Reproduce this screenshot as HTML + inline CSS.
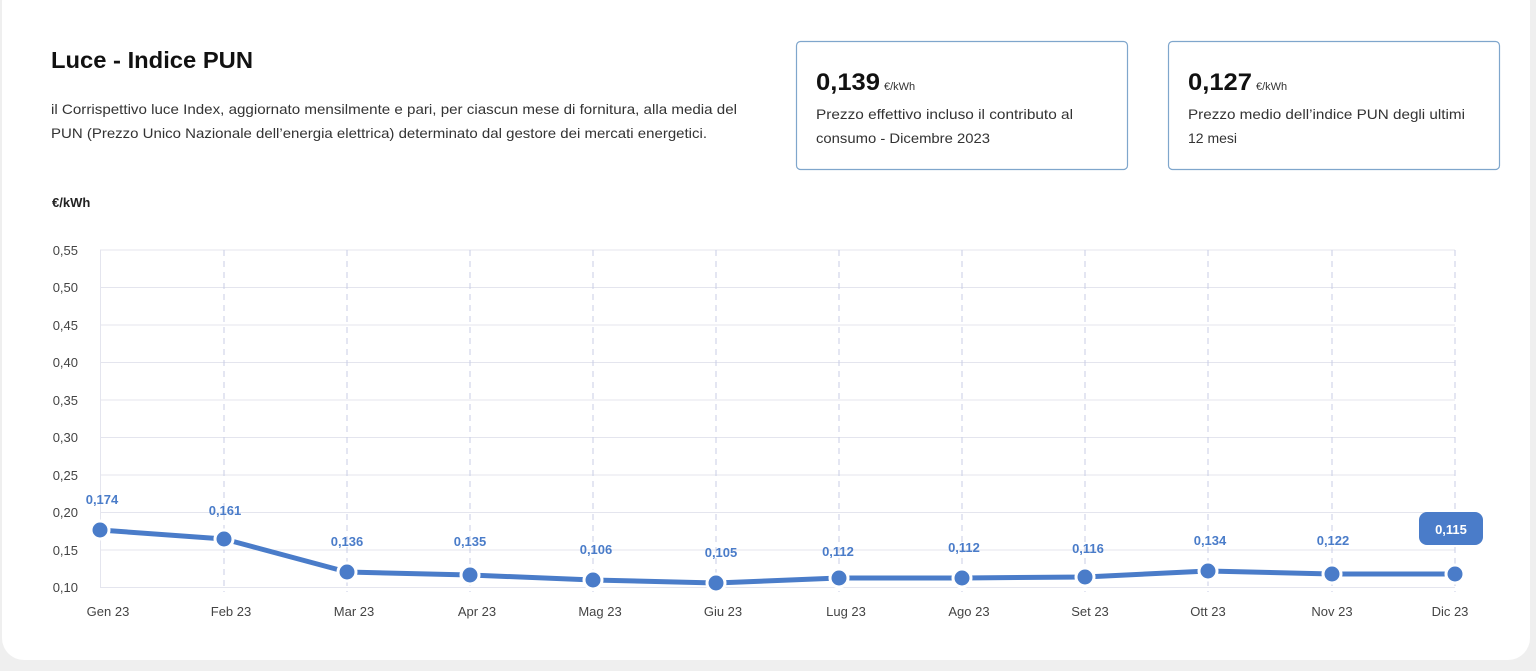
<!DOCTYPE html>
<html><head><meta charset="utf-8"><style>
html,body{margin:0;padding:0;background:#efefef;}
svg{display:block;font-family:"Liberation Sans",sans-serif;}
</style></head><body>
<svg width="1536" height="671" viewBox="0 0 1536 671">
<rect x="0" y="0" width="1536" height="671" fill="#efefef"/>
<rect x="2" y="-20" width="1528" height="680" rx="22" fill="#fff"/>
<text x="51" y="68" font-size="23" font-weight="bold" fill="#111" textLength="202" lengthAdjust="spacingAndGlyphs">Luce - Indice PUN</text>
<text x="51" y="114" font-size="14" fill="#333" textLength="686" lengthAdjust="spacingAndGlyphs">il Corrispettivo luce Index, aggiornato mensilmente e pari, per ciascun mese di fornitura, alla media del</text>
<text x="51" y="138" font-size="14" fill="#333" textLength="656" lengthAdjust="spacingAndGlyphs">PUN (Prezzo Unico Nazionale dell’energia elettrica) determinato dal gestore dei mercati energetici.</text>
<rect x="796.5" y="41.5" width="331" height="128" rx="4" fill="#fff" stroke="#7fa6cc" stroke-width="1.2"/>
<text x="816" y="90" font-size="24" font-weight="bold" fill="#111" textLength="64" lengthAdjust="spacingAndGlyphs">0,139</text>
<text x="884" y="90" font-size="11" fill="#333">€/kWh</text>
<text x="816" y="119" font-size="14" fill="#333" textLength="257" lengthAdjust="spacingAndGlyphs">Prezzo effettivo incluso il contributo al</text>
<text x="816" y="143" font-size="14" fill="#333" textLength="174" lengthAdjust="spacingAndGlyphs">consumo - Dicembre 2023</text>
<rect x="1168.5" y="41.5" width="331" height="128" rx="4" fill="#fff" stroke="#7fa6cc" stroke-width="1.2"/>
<text x="1188" y="90" font-size="24" font-weight="bold" fill="#111" textLength="64" lengthAdjust="spacingAndGlyphs">0,127</text>
<text x="1256" y="90" font-size="11" fill="#333">€/kWh</text>
<text x="1188" y="119" font-size="14" fill="#333" textLength="277" lengthAdjust="spacingAndGlyphs">Prezzo medio dell’indice PUN degli ultimi</text>
<text x="1188" y="143" font-size="14" fill="#333">12 mesi</text>
<text x="52" y="207" font-size="13" font-weight="bold" fill="#222">€/kWh</text>
<g stroke="#e4e5ee" stroke-width="1">
<line x1="100" y1="250" x2="1455" y2="250"/><line x1="100" y1="287.5" x2="1455" y2="287.5"/>
<line x1="100" y1="325" x2="1455" y2="325"/><line x1="100" y1="362.5" x2="1455" y2="362.5"/>
<line x1="100" y1="400" x2="1455" y2="400"/><line x1="100" y1="437.5" x2="1455" y2="437.5"/>
<line x1="100" y1="475" x2="1455" y2="475"/><line x1="100" y1="512.5" x2="1455" y2="512.5"/>
<line x1="100" y1="550" x2="1455" y2="550"/><line x1="100" y1="587.5" x2="1455" y2="587.5"/>
<line x1="100.5" y1="250" x2="100.5" y2="588"/>
</g>
<g stroke="#c9cde6" stroke-width="1" stroke-dasharray="6,5">
<line x1="224" y1="250" x2="224" y2="592"/><line x1="347" y1="250" x2="347" y2="592"/>
<line x1="470" y1="250" x2="470" y2="592"/><line x1="593" y1="250" x2="593" y2="592"/>
<line x1="716" y1="250" x2="716" y2="592"/><line x1="839" y1="250" x2="839" y2="592"/>
<line x1="962" y1="250" x2="962" y2="592"/><line x1="1085" y1="250" x2="1085" y2="592"/>
<line x1="1208" y1="250" x2="1208" y2="592"/><line x1="1332" y1="250" x2="1332" y2="592"/>
<line x1="1455" y1="250" x2="1455" y2="592"/>
</g>
<g font-size="13" fill="#444" text-anchor="end">
<text x="78" y="255">0,55</text><text x="78" y="292">0,50</text><text x="78" y="330">0,45</text>
<text x="78" y="367">0,40</text><text x="78" y="405">0,35</text><text x="78" y="442">0,30</text>
<text x="78" y="480">0,25</text><text x="78" y="517">0,20</text><text x="78" y="555">0,15</text>
<text x="78" y="592">0,10</text>
</g>
<g font-size="13" fill="#444" text-anchor="middle">
<text x="108" y="616">Gen 23</text><text x="231" y="616">Feb 23</text><text x="354" y="616">Mar 23</text>
<text x="477" y="616">Apr 23</text><text x="600" y="616">Mag 23</text><text x="723" y="616">Giu 23</text>
<text x="846" y="616">Lug 23</text><text x="969" y="616">Ago 23</text><text x="1090" y="616">Set 23</text>
<text x="1208" y="616">Ott 23</text><text x="1332" y="616">Nov 23</text><text x="1450" y="616">Dic 23</text>
</g>
<polyline fill="none" stroke="#4a7cc9" stroke-width="5" stroke-linejoin="round" points="100,530 224,539 347,572 470,575 593,580 716,583 839,578 962,578 1085,577 1208,571 1332,574 1455,574"/>
<g fill="#4a7cc9" stroke="#fff" stroke-width="3">
<circle cx="100" cy="530" r="9"/><circle cx="224" cy="539" r="9"/><circle cx="347" cy="572" r="9"/>
<circle cx="470" cy="575" r="9"/><circle cx="593" cy="580" r="9"/><circle cx="716" cy="583" r="9"/>
<circle cx="839" cy="578" r="9"/><circle cx="962" cy="578" r="9"/><circle cx="1085" cy="577" r="9"/>
<circle cx="1208" cy="571" r="9"/><circle cx="1332" cy="574" r="9"/><circle cx="1455" cy="574" r="9"/>
</g>
<g font-size="13" font-weight="bold" fill="#4a7cc9" text-anchor="middle">
<text x="102" y="504">0,174</text><text x="225" y="515">0,161</text><text x="347" y="546">0,136</text>
<text x="470" y="546">0,135</text><text x="596" y="554">0,106</text><text x="721" y="557">0,105</text>
<text x="838" y="556">0,112</text><text x="964" y="552">0,112</text><text x="1088" y="553">0,116</text>
<text x="1210" y="545">0,134</text><text x="1333" y="545">0,122</text>
</g>
<rect x="1419" y="512" width="64" height="33" rx="8" fill="#4a7cc9"/>
<text x="1451" y="534" font-size="13" font-weight="bold" fill="#fff" text-anchor="middle">0,115</text>
</svg>
</body></html>
